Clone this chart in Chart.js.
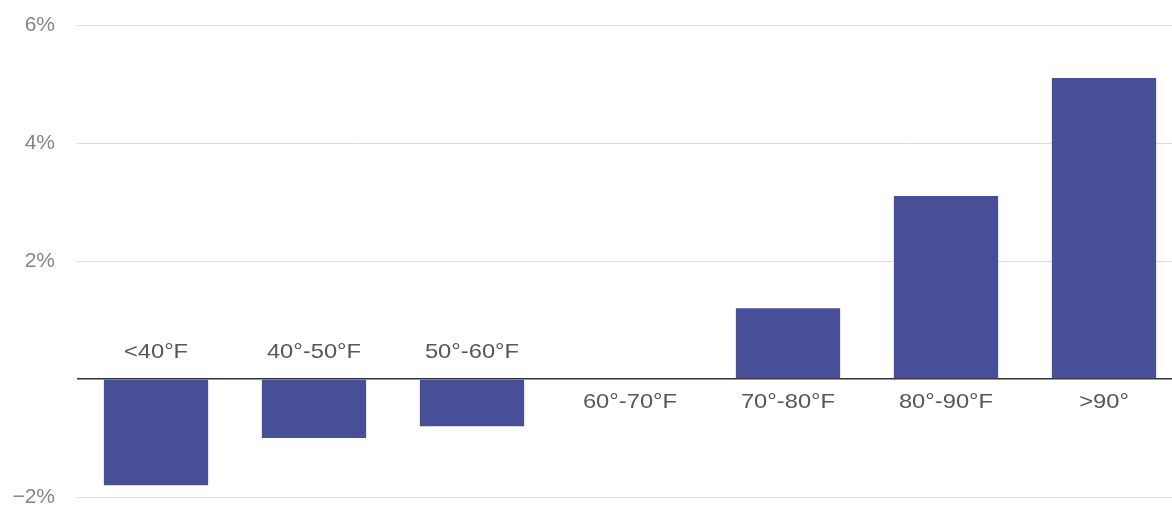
<!DOCTYPE html>
<html>
<head>
<meta charset="utf-8">
<script src="https://cdn.jsdelivr.net/npm/chart.js@4"></script>
<style>
  html, body { margin: 0; padding: 0; background: #fff; overflow: hidden; }
  canvas { display: block; }
</style>
</head>
<body>
<canvas id="chart" width="1190" height="506"></canvas>
<script>
// temperature bands and % change
const categories = ['<40°F', '40°-50°F', '50°-60°F', '60°-70°F', '70°-80°F', '80°-90°F', '>90°'];
const values = [-1.8, -1.0, -0.8, 0, 1.2, 3.1, 5.1];
const yTicks = [-2, 0, 2, 4, 6];

// category names sit on the zero line: above it for negative bars, below otherwise
const zeroLabels = {
  id: 'zeroLabels',
  afterDatasetsDraw(chart) {
    const ctx = chart.ctx;
    const x = chart.scales.x, y = chart.scales.y;
    const y0 = y.getPixelForValue(0);
    ctx.save();
    ctx.font = '21px "Liberation Sans", Arial, sans-serif';
    ctx.fillStyle = '#575757';
    ctx.textAlign = 'center';
    ctx.textBaseline = 'alphabetic';
    categories.forEach((c, i) => {
      const px = x.getPixelForValue(i);
      const py = values[i] < 0 ? y0 - 21 : y0 + 29;
      ctx.save();
      ctx.translate(px, py);
      ctx.scale(1.13, 1); // source text is a bit wide
      ctx.fillText(c, 0, 0);
      ctx.restore();
    });
    ctx.restore();
  }
};

new Chart(document.getElementById('chart').getContext('2d'), {
  type: 'bar',
  data: {
    labels: categories,
    datasets: [{
      data: values,
      backgroundColor: '#464f98',
      categoryPercentage: 1,
      barPercentage: 0.66
    }]
  },
  options: {
    responsive: false,
    animation: false,
    layout: { padding: { top: 25, bottom: 9, right: 7, left: 0 } },
    plugins: { legend: { display: false }, tooltip: { enabled: false } },
    scales: {
      x: { display: false },
      y: {
        min: -2,
        max: 6,
        afterBuildTicks: s => { s.ticks = yTicks.map(v => ({ value: v })); },
        afterFit: s => { s.width = 77; s.paddingTop = 0; s.paddingBottom = 0; },
        border: { display: false },
        grid: {
          drawTicks: false,
          color: c => c.tick.value === 0 ? '#333' : '#dcdcdc',
          lineWidth: c => c.tick.value === 0 ? 1.5 : 1
        },
        ticks: {
          padding: 22,
          color: '#858585',
          font: { family: '"Liberation Sans", Arial, sans-serif', size: 21 },
          callback: v => v === 0 ? '' : (v < 0 ? '\u2212' + Math.abs(v) : v) + '%'
        }
      }
    }
  },
  plugins: [zeroLabels]
});
</script>
</body>
</html>
